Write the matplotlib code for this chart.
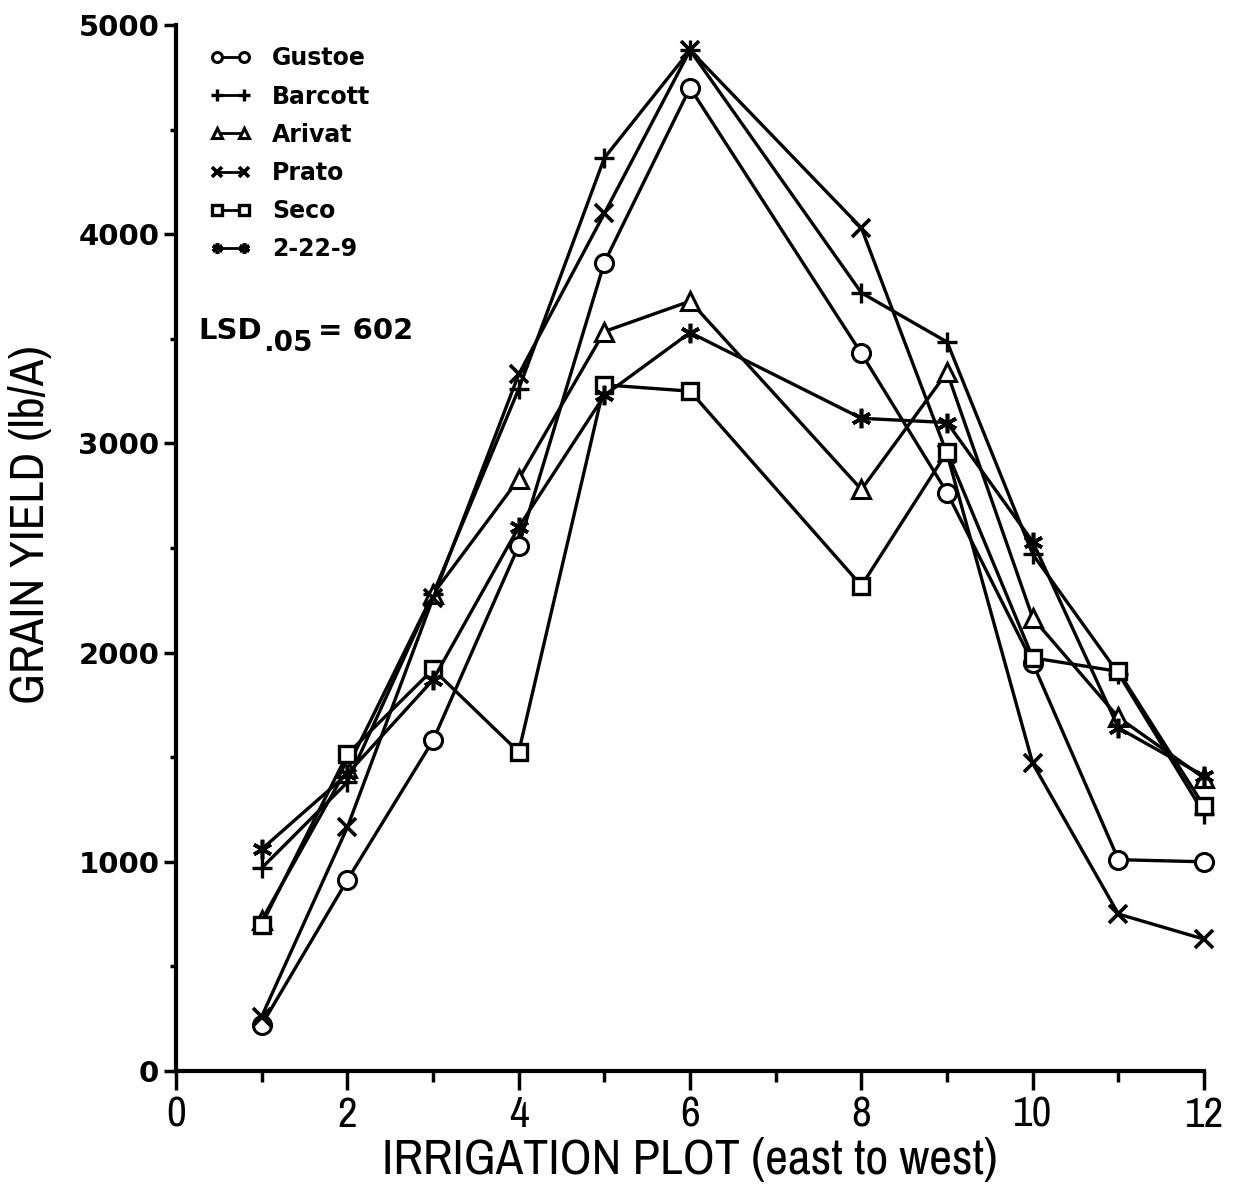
import matplotlib
matplotlib.use("Agg")
import matplotlib.pyplot as plt
from matplotlib import font_manager as fm

# ---- data ----
plots = [1, 2, 3, 4, 5, 6, 8, 9, 10, 11, 12]
gustoe = [220, 913, 1580, 2510, 3865, 4700, 3430, 2765, 1950, 1010, 1000]
barcott = [970, 1380, 2280, 3260, 4365, 4880, 3720, 3485, 2470, 1900, 1230]
arivat = [720, 1450, 2280, 2830, 3535, 3680, 2780, 3340, 2165, 1690, 1400]
prato = [260, 1165, 2260, 3330, 4100, 4880, 4030, 2950, 1470, 750, 630]
seco = [700, 1515, 1920, 1525, 3280, 3250, 2320, 2960, 1975, 1910, 1265]
line_2229 = [1060, 1420, 1870, 2600, 3230, 3530, 3120, 3100, 2530, 1640, 1410]
series_names = ["Gustoe", "Barcott", "Arivat", "Prato", "Seco", "2-22-9"]
x_ticks = [0, 2, 4, 6, 8, 10, 12]
y_ticks = [0, 1000, 2000, 3000, 4000, 5000]

# find a condensed / narrow face if one is installed
cond_family = None
for f in fm.fontManager.ttflist:
    if ("Narrow" in f.name or "Condensed" in f.name) and f.style == "normal":
        cond_family = f.name
        break
if cond_family is None:
    for f in fm.fontManager.ttflist:
        if f.stretch in ("condensed", "semi-condensed", "extra-condensed") or \
           (isinstance(f.stretch, int) and f.stretch < 500):
            cond_family = f.name
            break

series = [gustoe, barcott, arivat, prato, seco, line_2229]
styles = [
    dict(marker="o", markerfacecolor="white", markersize=13, markeredgewidth=2.2),
    dict(marker="+", markersize=15, markeredgewidth=2.4),
    dict(marker="^", markerfacecolor="white", markersize=13, markeredgewidth=2.2),
    dict(marker="x", markersize=13, markeredgewidth=2.6),
    dict(marker="s", markerfacecolor="white", markersize=12, markeredgewidth=2.4),
    dict(marker=(6, 2, 0), markersize=14, markeredgewidth=2.6),
]

fig = plt.figure(figsize=(12.35, 11.95), dpi=100)
ax = fig.add_axes([0.1425, 0.1038, 0.8325, 0.8752])

for name, vals, st in zip(series_names, series, styles):
    ax.plot(plots, vals, color="black", linewidth=2.4, markeredgecolor="black",
            label=name, clip_on=False, **st)

ax.set_xlim(0, 12)
ax.set_ylim(0, 5000)
ax.spines["top"].set_visible(False)
ax.spines["right"].set_visible(False)
ax.spines["left"].set_linewidth(3)
ax.spines["bottom"].set_linewidth(3)

ax.set_xticks(x_ticks)
ax.set_xticks(range(0, 13), minor=True)
ax.set_yticks(y_ticks)
ax.set_yticks(range(0, 5001, 500), minor=True)
ax.tick_params(axis="x", which="major", direction="out", length=14, width=2.5, pad=4)
ax.tick_params(axis="x", which="minor", direction="out", length=8, width=2.5)
ax.tick_params(axis="y", which="major", direction="out", length=9, width=2.5, pad=3)
ax.tick_params(axis="y", which="minor", direction="out", length=4.5, width=2.5)

lab_family = [cond_family, "DejaVu Sans"] if cond_family else ["DejaVu Sans"]
cond = cond_family is not None

for lab in ax.get_yticklabels():
    lab.set_fontfamily("DejaVu Sans")
    lab.set_fontweight("bold")
    lab.set_fontsize(21)
for lab in ax.get_xticklabels():
    lab.set_fontfamily(lab_family)
    lab.set_fontweight("bold")
    lab.set_fontsize(31 if cond else 22)

fig.text(690 / 1235, 1 - 1160 / 1195, "IRRIGATION PLOT (east to west)",
         fontsize=36 if cond else 27, fontfamily=lab_family,
         ha="center", va="center")
fig.text(30 / 1235, 1 - 525 / 1195, "GRAIN YIELD (lb/A)", rotation=90,
         fontsize=35 if cond else 26, fontfamily=lab_family,
         ha="center", va="center")

leg = ax.legend(loc="upper left", bbox_to_anchor=(0.012, 1.0), frameon=False,
                numpoints=2, markerscale=0.55, handlelength=1.75, handletextpad=0.9,
                labelspacing=0.6,
                prop={"family": "DejaVu Sans", "weight": "bold", "size": 17})
for h in leg.get_lines():
    h.set_linewidth(2)

t1 = ax.text(0.022, 0.70, "LSD", transform=ax.transAxes,
             fontsize=21, fontweight="bold", fontfamily="DejaVu Sans",
             ha="left", va="baseline")
t2 = ax.annotate(".05", xy=(1, 0), xycoords=t1, xytext=(1, -9),
                 textcoords="offset points", fontsize=20, fontweight="bold",
                 fontfamily="DejaVu Sans", ha="left", va="bottom")
ax.annotate("= 602", xy=(1, 0), xycoords=t1, xytext=(40, 0),
            textcoords="offset points", fontsize=21, fontweight="bold",
            fontfamily="DejaVu Sans", ha="left", va="bottom")

fig.savefig("out.png", dpi=100)
